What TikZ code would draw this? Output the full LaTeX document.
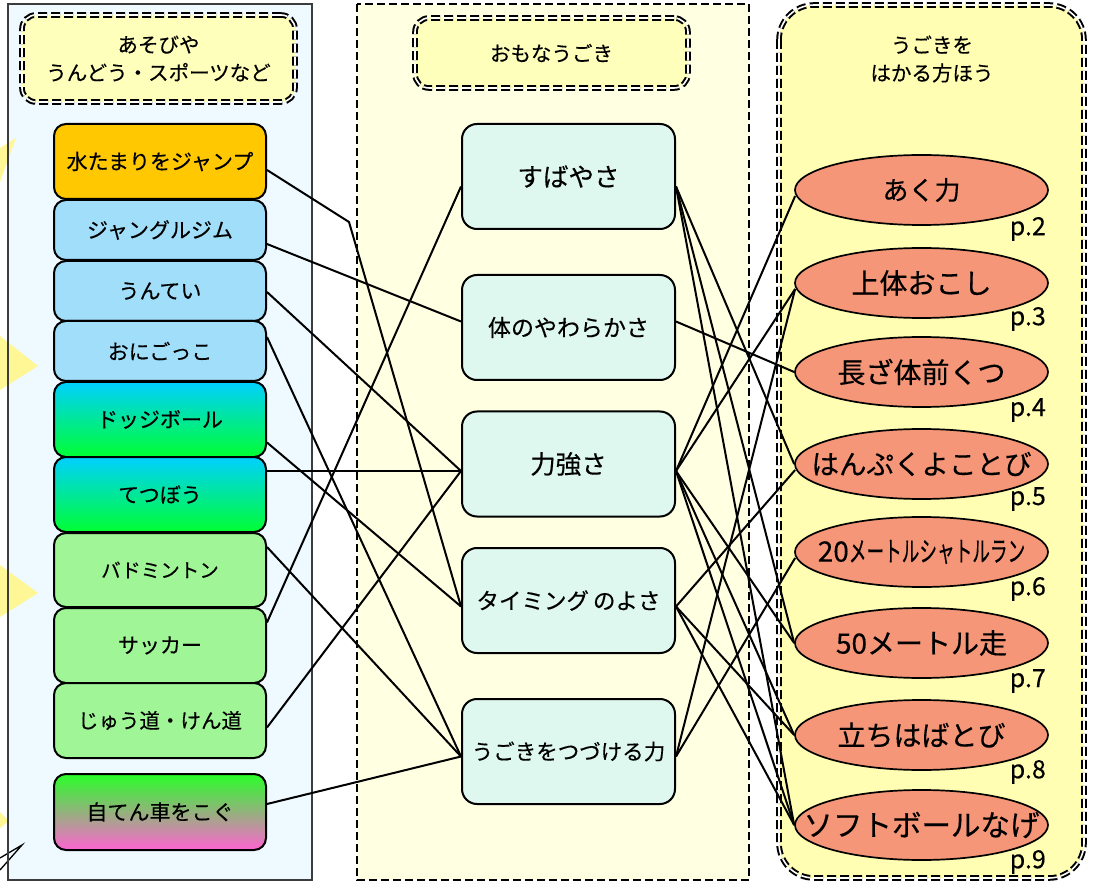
\documentclass[tikz,border=0pt]{standalone}
\usepackage{fontspec}
\usepackage{graphicx}
\setmainfont{Noto Sans CJK JP}[FakeBold=0.35]
\usetikzlibrary{shapes.geometric,calc,arrows.meta}

\definecolor{leftpanel}{RGB}{238,250,255}
\definecolor{midpanel}{RGB}{255,255,226}
\definecolor{rightpanel}{RGB}{255,254,178}
\definecolor{hdrfill}{RGB}{255,255,188}
\definecolor{orangefill}{RGB}{255,200,0}
\definecolor{bluefill}{RGB}{160,222,250}
\definecolor{cyantop}{RGB}{0,208,255}
\definecolor{greenbot}{RGB}{0,255,50}
\definecolor{greenfill}{RGB}{160,245,150}
\definecolor{biketop}{RGB}{40,255,40}
\definecolor{bikemid}{RGB}{200,170,160}
\definecolor{bikebot}{RGB}{255,100,210}
\definecolor{midnode}{RGB}{222,248,240}
\definecolor{salmon}{RGB}{245,150,120}
\definecolor{triyellow}{RGB}{255,246,150}
\definecolor{panelborder}{RGB}{60,60,60}

\newcommand{\myfs}[1]{\fontsize{#1}{#1}\selectfont}

\tikzset{
  lbox/.style={draw, rounded corners=12pt, minimum width=212pt, inner sep=0pt,
    line width=2pt, font=\myfs{21}},
  mbox/.style={draw, rounded corners=15pt, fill=midnode, minimum width=213pt,
    minimum height=105pt, inner sep=0pt, line width=2pt},
  meas/.style={ellipse, draw, fill=salmon, minimum width=253pt, minimum height=70pt,
    inner sep=0pt, line width=1.7pt, font=\myfs{28}},
  plabel/.style={anchor=east, inner sep=0pt, font=\myfs{25}},
  hdr/.style={draw, rounded corners=14pt, fill=hdrfill, double=white,
    double distance=1.6pt, line width=2pt, dash pattern=on 9pt off 4pt,
    inner sep=0pt, align=center, font=\fontsize{20.5}{28}\selectfont},
  conn/.style={line width=2pt, black},
  tri/.style={fill=triyellow}
}

\begin{document}
\begin{tikzpicture}[x=1pt,y=-1pt]
\useasboundingbox (0,0) rectangle (1095,882);
\fill[white] (0,0) rectangle (1095,882);

% panels
\fill[leftpanel] (8,4) rectangle (312,880);
\fill[tri] (0,148) -- (16,138) -- (0,182) -- cycle;
\fill[tri] (0,336) -- (38,366) -- (0,390) -- cycle;
\fill[tri] (0,565) -- (38,593) -- (0,617) -- cycle;
\fill[tri] (0,812) -- (9,821) -- (0,828) -- cycle;
\draw[line width=1.3pt] (0,858) -- (22,845) -- (0,870);
\draw[panelborder, line width=2pt] (8,4) rectangle (312,880);

\draw[fill=midpanel, line width=1.8pt, dash pattern=on 8pt off 4pt] (357,4) rectangle (749,880);

\draw[fill=rightpanel, rounded corners=35pt, double=white, double distance=1.6pt,
  line width=2pt, dash pattern=on 9pt off 4pt] (779,5) rectangle (1084,878);

% headers
\node[hdr, minimum width=273pt, minimum height=87pt] (HL) at (158.5,58.5)
  {あそびや\\うんどう・スポーツなど};
\node[hdr, minimum width=273pt, minimum height=70pt] (HM) at (551.5,53) {おもなうごき};
\node[align=center, inner sep=0pt, font=\fontsize{20.5}{28}\selectfont] (HR) at (932,59)
  {うごきを\\はかる方ほう};

% left boxes
\node[lbox, fill=orangefill, minimum height=75pt] (L1) at (160,161.5) {水たまりをジャンプ};
\node[lbox, fill=bluefill, minimum height=60pt] (L2) at (160,230) {ジャングルジム};
\node[lbox, fill=bluefill, minimum height=60pt] (L3) at (160,291) {うんてい};
\node[lbox, fill=bluefill, minimum height=60pt] (L4) at (160,351) {おにごっこ};
\node[lbox, top color=cyantop, bottom color=greenbot, minimum height=75pt] (L5) at (160,419.5) {ドッジボール};
\node[lbox, top color=cyantop, bottom color=greenbot, minimum height=75pt] (L6) at (160,494.5) {てつぼう};
\node[lbox, fill=greenfill, minimum height=74pt, font=\myfs{19.5}] (L7) at (160,570) {バドミントン};
\node[lbox, fill=greenfill, minimum height=75pt] (L8) at (160,645.5) {サッカー};
\node[lbox, fill=greenfill, minimum height=75pt, font=\myfs{20.5}] (L9) at (160,720.5) {じゅう道・けん道};
\node[lbox, top color=biketop, middle color=bikemid, bottom color=bikebot, minimum height=76pt] (L10) at (160,812) {自てん車をこぐ};

% middle boxes
\node[mbox, font=\myfs{25.5}] (M1) at (568.5,176.5) {すばやさ};
\node[mbox, font=\myfs{23}] (M2) at (568.5,327.5) {体のやわらかさ};
\node[mbox, font=\myfs{25.5}] (M3) at (568.5,464) {力強さ};
\node[mbox, font=\myfs{22.5}] (M4) at (568.5,600.5) {タイミング\hspace{4pt}のよさ};
\node[mbox, font=\myfs{21.5}] (M5) at (568.5,751.5) {うごきをつづける力};

% right ellipses
\node[meas] (R1) at (921.5,190) {\makebox[0pt]{\myfs{26}あく力}};
\node[meas] (R2) at (921.5,283) {\makebox[0pt]{上体おこし}};
\node[meas] (R3) at (921.5,372) {\makebox[0pt]{長ざ体前くつ}};
\node[meas] (R4) at (921.5,464) {\makebox[0pt]{\myfs{27.5}はんぷくよことび}};
\node[meas] (R5) at (921.5,552) {\makebox[0pt]{20\scalebox{0.63}[1]{メートルシャトルラン}}};
\node[meas] (R6) at (921.5,643) {\makebox[0pt]{50メートル走}};
\node[meas] (R7) at (921.5,735) {\makebox[0pt]{立ちはばとび}};
\node[meas] (R8) at (921.5,825) {\makebox[0pt]{\myfs{29.5}ソフトボールなげ}};

\node[plabel] (P2) at (1046,229) {p.2};
\node[plabel] (P3) at (1046,319) {p.3};
\node[plabel] (P4) at (1046,410) {p.4};
\node[plabel] (P5) at (1046,499) {p.5};
\node[plabel] (P6) at (1046,589) {p.6};
\node[plabel] (P7) at (1046,681) {p.7};
\node[plabel] (P8) at (1046,772) {p.8};
\node[plabel] (P9) at (1046,862) {p.9};

% connectors left -> middle
\coordinate (bend1) at (349,222);
\draw[conn] ($(L1.east)+(0,8.5)$) -- (bend1) -- ($(M4.west)+(0,6)$);
\draw[conn] ($(L2.east)+(0,14)$) -- ($(M2.west)+(0,-6)$);
\draw[conn] ($(L3.east)+(0,1)$) -- ($(M3.west)+(0,7)$);
\draw[conn] ($(L4.east)+(0,-14)$) -- ($(M5.west)+(0,5)$);
\draw[conn] ($(L5.east)+(0,23)$) -- ($(M4.west)+(0,6)$);
\draw[conn] ($(L6.east)+(0,-23.5)$) -- ($(M3.west)+(0,7)$);
\draw[conn] ($(L7.east)+(0,-23)$) -- ($(M5.west)+(0,5)$);
\draw[conn] ($(L8.east)+(0,-23)$) -- ($(M1.west)+(0,10)$);
\draw[conn] ($(L9.east)+(0,7)$) -- ($(M3.west)+(0,7)$);
\draw[conn] ($(L10.east)+(0,-8)$) -- ($(M5.west)+(0,5)$);

% connectors middle -> right
\draw[conn] ($(M1.east)+(0,10)$) -- (R4.west);
\draw[conn] ($(M1.east)+(0,10)$) -- (R6.west);
\draw[conn] ($(M1.east)+(0,10)$) -- (R8.west);
\draw[conn] ($(M2.east)+(0,-6)$) -- (R3.west);
\draw[conn] ($(M3.east)+(0,7)$) -- ($(R1.west)+(1,6)$);
\draw[conn] ($(M3.east)+(0,7)$) -- ($(R2.west)+(1,6)$);
\draw[conn] ($(M3.east)+(0,7)$) -- (R6.west);
\draw[conn] ($(M3.east)+(0,7)$) -- (R7.west);
\draw[conn] ($(M3.east)+(0,7)$) -- (R8.west);
\draw[conn] ($(M4.east)+(0,6)$) -- ($(R4.west)+(1,6)$);
\draw[conn] ($(M4.east)+(0,6)$) -- (R7.west);
\draw[conn] ($(M4.east)+(0,6)$) -- (R8.west);
\draw[conn] ($(M5.east)+(0,5)$) -- ($(R2.west)+(1,6)$);
\draw[conn] ($(M5.east)+(0,5)$) -- ($(R5.west)+(1,6)$);
\end{tikzpicture}
\end{document}
